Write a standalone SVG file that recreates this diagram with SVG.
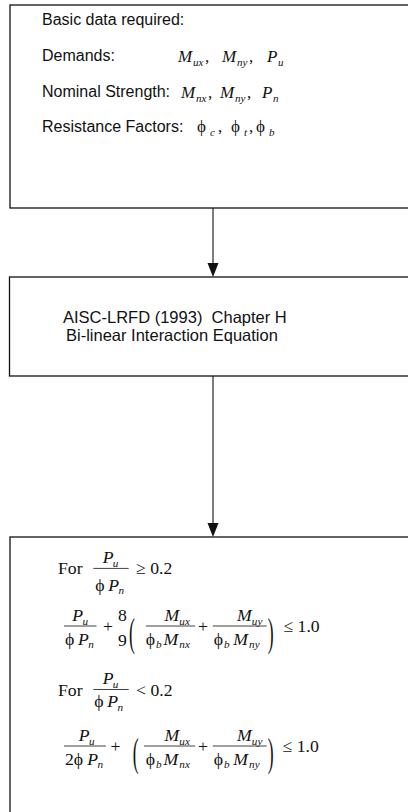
<svg xmlns="http://www.w3.org/2000/svg" width="408" height="812" viewBox="0 0 408 812">
<defs>
<style>
.box{fill:none;stroke:#111;stroke-width:1.3}
.t{font-family:"Liberation Sans",Arial,sans-serif;font-size:16px;fill:#111;white-space:pre}
.t2{font-family:"Liberation Sans",Arial,sans-serif;font-size:16.5px;fill:#111;white-space:pre}
.mi{font-family:"Liberation Serif","Times New Roman",serif;font-style:italic;font-size:17px;fill:#111}
.mr{font-family:"Liberation Serif","Times New Roman",serif;font-style:normal;font-size:17px;fill:#111}
.sb{font-family:"Liberation Serif","Times New Roman",serif;font-style:italic;font-size:11px;fill:#111}
.e .mi,.e .mr{font-size:19px}
.e .sb{font-size:12px}
.bar{stroke:#333;stroke-width:1}
.con{stroke:#111;stroke-width:1.1;fill:none}
</style>
</defs>

<g id="connectors">
<line class="con" x1="213" y1="208" x2="213" y2="263"/>
<polygon points="207.5,263 218.5,263 213,277" fill="#111"/>
<line class="con" x1="213" y1="376" x2="213" y2="523"/>
<polygon points="207.5,523 218.5,523 213,537" fill="#111"/>
</g>

<g id="node-basic-data">
<rect class="box" x="10" y="5" width="420" height="203"/>
<text class="t" x="42" y="25">Basic data required:</text>
<text class="t" x="42" y="61">Demands:</text>
<text class="t" x="42" y="97">Nominal Strength:</text>
<text class="t" x="42" y="132">Resistance Factors:</text>
<text class="mi" y="62"><tspan x="178">M</tspan><tspan class="sb" x="193" y="66">ux</tspan><tspan class="mr" x="205" y="62">,</tspan><tspan x="222">M</tspan><tspan class="sb" x="237" y="66">ny</tspan><tspan class="mr" x="249" y="62">,</tspan><tspan x="267">P</tspan><tspan class="sb" x="278" y="66">u</tspan></text>
<text class="mi" y="98"><tspan x="181">M</tspan><tspan class="sb" x="196" y="102">nx</tspan><tspan class="mr" x="208" y="98">,</tspan><tspan x="220">M</tspan><tspan class="sb" x="235" y="102">ny</tspan><tspan class="mr" x="247" y="98">,</tspan><tspan x="262">P</tspan><tspan class="sb" x="273" y="102">n</tspan></text>
<text class="mr" y="132"><tspan x="197">ϕ</tspan><tspan class="sb" x="210" y="136">c</tspan><tspan x="218" y="132">,</tspan><tspan x="231">ϕ</tspan><tspan class="sb" x="244" y="136">t</tspan><tspan x="249" y="132">,</tspan><tspan x="256">ϕ</tspan><tspan class="sb" x="269" y="136">b</tspan></text>
</g>

<g id="node-aisc">
<rect class="box" x="9.5" y="277" width="420" height="99"/>
<text class="t2" x="63" y="323">AISC-LRFD (1993)  Chapter H</text>
<text class="t2" x="66" y="340.5">Bi-linear Interaction Equation</text>
</g>

<g id="node-equations" class="e">
<rect class="box" x="10" y="537" width="420" height="300"/>

<g transform="translate(58,574) scale(0.93) translate(-64,-569)">
<text class="mr" x="64" y="569">For</text>
<text class="mi" y="557"><tspan x="112">P</tspan><tspan class="sb" x="123" y="561">u</tspan></text>
<line class="bar" x1="102" y1="563" x2="140" y2="563"/>
<text class="mr" y="587"><tspan x="104">ϕ</tspan><tspan class="mi" x="118">P</tspan><tspan class="sb" x="129" y="591">n</tspan></text>
<text class="mr" x="148" y="569">≥ 0.2</text>
</g>

<g transform="translate(64,626) scale(0.93) translate(-72,-630)">
<text class="mi" y="625"><tspan x="81">P</tspan><tspan class="sb" x="92" y="629">u</tspan></text>
<line class="bar" x1="72" y1="630" x2="107" y2="630"/>
<text class="mr" y="650"><tspan x="73">ϕ</tspan><tspan class="mi" x="87">P</tspan><tspan class="sb" x="98" y="654">n</tspan></text>
<text class="mr" x="114" y="636">+</text>
<text class="mr" x="130" y="625">8</text>
<text class="mr" x="130" y="651">9</text>
<text class="mr" font-size="22" transform="translate(142,651) scale(1,2.3)">(</text>
<text class="mi" y="625"><tspan x="180">M</tspan><tspan class="sb" x="196" y="629">ux</tspan></text>
<line class="bar" x1="160" y1="630" x2="213" y2="630"/>
<text class="mr" y="650"><tspan x="160">ϕ</tspan><tspan class="sb" x="171" y="654">b</tspan><tspan class="mi" x="179" y="650">M</tspan><tspan class="sb" x="196" y="654">nx</tspan></text>
<text class="mr" x="216" y="636">+</text>
<text class="mi" y="625"><tspan x="258">M</tspan><tspan class="sb" x="274" y="629">uy</tspan></text>
<line class="bar" x1="232" y1="630" x2="290" y2="630"/>
<text class="mr" y="650"><tspan x="233">ϕ</tspan><tspan class="sb" x="244" y="654">b</tspan><tspan class="mi" x="254" y="650">M</tspan><tspan class="sb" x="271" y="654">ny</tspan></text>
<text class="mr" font-size="22" transform="translate(291,651) scale(1,2.3)">)</text>
<text class="mr" x="308" y="636">≤ 1.0</text>
</g>

<g transform="translate(58,696) scale(0.93) translate(-64,-697)">
<text class="mr" x="64" y="697">For</text>
<text class="mi" y="684"><tspan x="112">P</tspan><tspan class="sb" x="123" y="688">u</tspan></text>
<line class="bar" x1="102" y1="690" x2="140" y2="690"/>
<text class="mr" y="709"><tspan x="103">ϕ</tspan><tspan class="mi" x="117">P</tspan><tspan class="sb" x="128" y="713">n</tspan></text>
<text class="mr" x="148" y="697">&lt; 0.2</text>
</g>

<g transform="translate(64,746) scale(0.93) translate(-72,-752)">
<text class="mi" y="747"><tspan x="88">P</tspan><tspan class="sb" x="99" y="751">u</tspan></text>
<line class="bar" x1="72" y1="752" x2="117" y2="752"/>
<text class="mr" y="772"><tspan x="73">2ϕ</tspan><tspan class="mi" x="97">P</tspan><tspan class="sb" x="108" y="776">n</tspan></text>
<text class="mr" x="122" y="758">+</text>
<text class="mr" font-size="22" transform="translate(146,773) scale(1,2.3)">(</text>
<text class="mi" y="747"><tspan x="180">M</tspan><tspan class="sb" x="196" y="751">ux</tspan></text>
<line class="bar" x1="158" y1="752" x2="213" y2="752"/>
<text class="mr" y="772"><tspan x="160">ϕ</tspan><tspan class="sb" x="171" y="776">b</tspan><tspan class="mi" x="179" y="772">M</tspan><tspan class="sb" x="196" y="776">nx</tspan></text>
<text class="mr" x="216" y="758">+</text>
<text class="mi" y="747"><tspan x="258">M</tspan><tspan class="sb" x="274" y="751">uy</tspan></text>
<line class="bar" x1="232" y1="752" x2="290" y2="752"/>
<text class="mr" y="772"><tspan x="233">ϕ</tspan><tspan class="sb" x="244" y="776">b</tspan><tspan class="mi" x="254" y="772">M</tspan><tspan class="sb" x="271" y="776">ny</tspan></text>
<text class="mr" font-size="22" transform="translate(291,773) scale(1,2.3)">)</text>
<text class="mr" x="307" y="758">≤ 1.0</text>
</g>
</g>
</svg>
